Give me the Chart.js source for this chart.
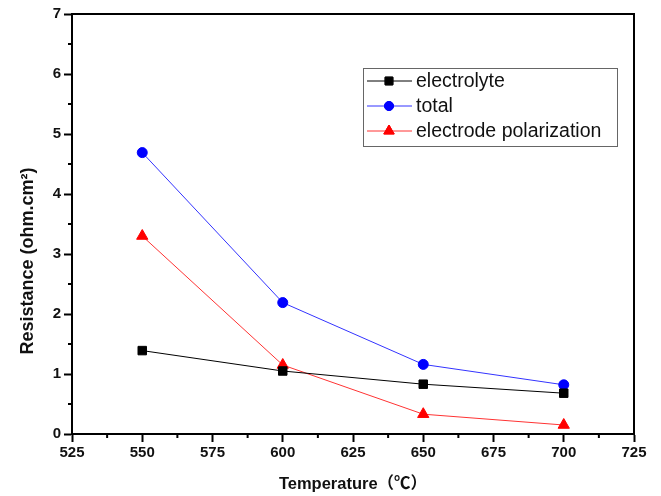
<!DOCTYPE html>
<html>
<head>
<meta charset="utf-8">
<script src="https://cdn.jsdelivr.net/npm/chart.js@4"></script>
<style>
  html, body { margin: 0; padding: 0; background: #fff; }
  #wrap { width: 661px; height: 496px; }
</style>
</head>
<body>
<div id="wrap"><canvas id="resChart"></canvas></div>
<script>
// data
const temperatures = [550, 600, 650, 700];
const electrolyte = [1.39, 1.05, 0.83, 0.68];
const total = [4.69, 2.19, 1.16, 0.82];
const polarization = [3.30, 1.15, 0.33, 0.15];
const xTicks = [525, 550, 575, 600, 625, 650, 675, 700, 725];
const yTicks = [0, 1, 2, 3, 4, 5, 6, 7];

function toPoints(values) {
    return temperatures.map(function(t, i) { return { x: t, y: values[i] }; });
}

const FONT = "'Liberation Sans', Arial, 'Noto Sans CJK SC', sans-serif";

// frame, minor ticks, rotated y title and the inset legend
const extras = {
    id: 'extras',
    afterDraw: function(chart) {
        const ctx = chart.ctx;
        const a = chart.chartArea;
        const xs = chart.scales.x, ys = chart.scales.y;
        ctx.save();
        ctx.strokeStyle = '#000';
        ctx.lineWidth = 2;
        ctx.strokeRect(a.left, a.top, a.right - a.left, a.bottom - a.top);

        // minor ticks half way between majors
        ctx.beginPath();
        for (let i = 0; i < xTicks.length - 1; i++) {
            const px = xs.getPixelForValue((xTicks[i] + xTicks[i + 1]) / 2);
            ctx.moveTo(px, a.bottom);
            ctx.lineTo(px, a.bottom + 4);
        }
        for (let i = 0; i < yTicks.length - 1; i++) {
            const py = ys.getPixelForValue((yTicks[i] + yTicks[i + 1]) / 2);
            ctx.moveTo(a.left, py);
            ctx.lineTo(a.left - 4, py);
        }
        ctx.stroke();

        // y axis title
        ctx.fillStyle = '#111';
        ctx.font = 'bold 18px ' + FONT;
        ctx.textAlign = 'center';
        ctx.textBaseline = 'middle';
        ctx.translate(28, 261);
        ctx.rotate(-Math.PI / 2);
        ctx.fillText('Resistance (ohm.cm\u00B2)', 0, 0);
        ctx.restore();

        // legend
        ctx.save();
        const bx = 363, by = 68, bw = 254, bh = 78;
        ctx.fillStyle = '#fff';
        ctx.fillRect(bx, by, bw, bh);
        ctx.strokeStyle = '#666';
        ctx.lineWidth = 1;
        ctx.strokeRect(bx + 0.5, by + 0.5, bw, bh);
        ctx.font = '19.5px ' + FONT;
        ctx.textAlign = 'left';
        ctx.textBaseline = 'middle';
        chart.data.datasets.forEach(function(ds, i) {
            const cy = by + 13 + i * 25;
            ctx.strokeStyle = ds.borderColor;
            ctx.lineWidth = 1;
            ctx.beginPath();
            ctx.moveTo(bx + 4, cy);
            ctx.lineTo(bx + 49, cy);
            ctx.stroke();
            Chart.helpers.drawPoint(ctx, {
                pointStyle: ds.pointStyle,
                radius: ds.pointRadius - 0.5,
                borderWidth: 1,
                rotation: 0
            }, bx + 26, cy);
            ctx.fillStyle = ds.backgroundColor;
            ctx.strokeStyle = ds.pointBorderColor || ds.borderColor;
            ctx.fill();
            ctx.stroke();
            ctx.fillStyle = '#111';
            ctx.fillText(ds.label, bx + 53, cy + 1);
        });
        ctx.restore();
    }
};

const ctx = document.getElementById('resChart').getContext('2d');
new Chart(ctx, {
    type: 'line',
    data: {
        datasets: [{
            label: 'electrolyte',
            data: toPoints(electrolyte),
            borderColor: '#000000',
            backgroundColor: '#000000',
            borderWidth: 1,
            pointStyle: 'rect',
            pointRadius: 6,
            pointBorderWidth: 1
        }, {
            label: 'total',
            data: toPoints(total),
            borderColor: '#3333ff',
            backgroundColor: '#0000ff',
            pointBorderColor: '#0000ff',
            borderWidth: 1,
            pointStyle: 'circle',
            pointRadius: 5,
            pointBorderWidth: 1
        }, {
            label: 'electrode polarization',
            data: toPoints(polarization),
            borderColor: '#ff3333',
            backgroundColor: '#ff0000',
            pointBorderColor: '#ff0000',
            borderWidth: 1,
            pointStyle: 'triangle',
            pointRadius: 6.5,
            pointBorderWidth: 1
        }]
    },
    options: {
        responsive: true,
        maintainAspectRatio: false,
        animation: false,
        layout: { padding: { top: 14, right: 27, left: 0, bottom: 0 } },
        plugins: {
            legend: { display: false },
            tooltip: { enabled: false }
        },
        scales: {
            x: {
                type: 'linear',
                min: 525,
                max: 725,
                afterBuildTicks: function(scale) {
                    scale.ticks = xTicks.map(function(v) { return { value: v }; });
                },
                afterFit: function(scale) { scale.height = 62; },
                grid: {
                    display: true,
                    drawOnChartArea: false,
                    drawTicks: true,
                    tickLength: 8,
                    tickWidth: 2,
                    tickColor: '#000'
                },
                border: { display: true, color: '#000', width: 2 },
                ticks: {
                    autoSkip: false,
                    maxRotation: 0,
                    padding: 2,
                    color: '#111',
                    font: { family: FONT, size: 15, weight: 'bold' }
                },
                title: {
                    display: true,
                    text: 'Temperature\uFF08\u2103\uFF09',
                    color: '#111',
                    padding: { top: 0, bottom: 2 },
                    font: { family: FONT, size: 16.5, weight: 'bold' }
                }
            },
            y: {
                min: 0,
                max: 7,
                afterBuildTicks: function(scale) {
                    scale.ticks = yTicks.map(function(v) { return { value: v }; });
                },
                afterFit: function(scale) { scale.width = 72; },
                grid: {
                    display: true,
                    drawOnChartArea: false,
                    drawTicks: true,
                    tickLength: 8,
                    tickWidth: 2,
                    tickColor: '#000'
                },
                border: { display: true, color: '#000', width: 2 },
                ticks: {
                    autoSkip: false,
                    padding: 3,
                    color: '#111',
                    font: { family: FONT, size: 15, weight: 'bold' }
                }
            }
        }
    },
    plugins: [extras]
});
</script>
</body>
</html>
